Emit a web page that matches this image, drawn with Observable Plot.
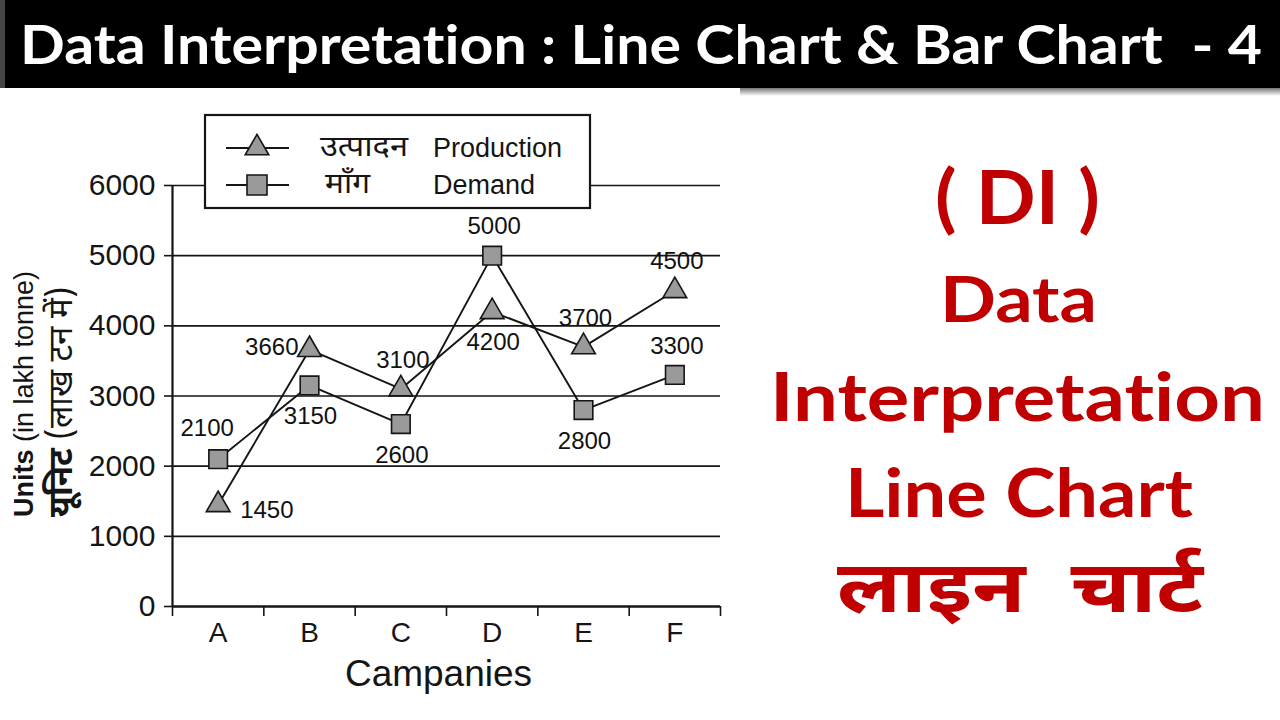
<!DOCTYPE html>
<html><head><meta charset="utf-8">
<script src="https://cdn.jsdelivr.net/npm/d3@7"></script>
<script src="https://cdn.jsdelivr.net/npm/@observablehq/plot@0.6"></script>
<style>
html,body{margin:0;padding:0;width:1280px;height:720px;overflow:hidden;background:#fff;}
#chart{position:absolute;left:0;top:90px;}
#overlay{position:absolute;left:0;top:0;pointer-events:none;}
#overlay text{white-space:pre;font-variant-ligatures:none;font-feature-settings:"liga" 0,"clig" 0;}
</style></head><body>
<div id="chart"></div>
<svg id="overlay" width="1280" height="720" xmlns="http://www.w3.org/2000/svg"></svg>
<script>
// ---- data ----
const categories = ["A", "B", "C", "D", "E", "F"];
const production = [1450, 3660, 3100, 4200, 3700, 4500];
const demand = [2100, 3150, 2600, 5000, 2800, 3300];
const yTicks = [0, 1000, 2000, 3000, 4000, 5000, 6000];
const productionLabelPlace = ["right", "left", "above", "below", "above", "above"];
const demandLabelPlace = ["aboveLeft", "below", "below", "above", "below", "above"];
const seriesNames = {production: ["उत्पादन", "Production"], demand: ["माँग", "Demand"]};

const toRows = (values, place) => values.map((v, i) => ({company: categories[i], xi: i + 0.5, value: v, place: place[i]}));
const prodRows = toRows(production, productionLabelPlace);
const demRows = toRows(demand, demandLabelPlace);

const places = {
  right: {dx: 22, dy: 6, textAnchor: "start"},
  left: {dx: -11, dy: -2, textAnchor: "end"},
  above: {dx: 2, dy: -29, textAnchor: "middle"},
  below: {dx: 1, dy: 31, textAnchor: "middle"},
  aboveLeft: {dx: -11, dy: -31, textAnchor: "middle"}
};
const labelMarks = rows => Object.entries(places).map(([k, o]) =>
  Plot.text(rows.filter(r => r.place === k), {x: "xi", y: "value", text: d => String(d.value), fontSize: 24, fill: "#111", ...o}));

const ink = "#151515";
const markerFill = "#9a9a9a";

const chart = Plot.plot({
  width: 740, height: 630,
  marginLeft: 172, marginRight: 20, marginTop: 95, marginBottom: 114,
  x: {domain: [0, categories.length]},
  y: {domain: [0, 6000]},
  style: {fontFamily: "'Liberation Sans', Arial, sans-serif", background: "transparent", color: ink},
  marks: [
    Plot.ruleY(yTicks.filter(v => v > 0), {stroke: ink, strokeWidth: 1.7}),
    Plot.axisY({ticks: yTicks, tickSize: 8, tickPadding: 9, fontSize: 30, label: null, tickFormat: d => String(d), strokeWidth: 1.6}),
    Plot.axisX({ticks: d3.range(0, categories.length + 1), tickSize: 10, tickFormat: () => "", label: null, strokeWidth: 1.6}),
    Plot.axisX({ticks: categories.map((c, i) => i + 0.5), tickSize: 0, tickPadding: 16, tickFormat: t => categories[Math.floor(t)], fontSize: 28, label: null}),
    Plot.text(["Campanies"], {frameAnchor: "bottom", dy: 79, dx: -8, fontSize: 37, fill: ink}),
    Plot.ruleX([0], {stroke: ink, strokeWidth: 2.2}),
    Plot.ruleY([0], {stroke: ink, strokeWidth: 2.6}),
    Plot.line(demRows, {x: "xi", y: "value", stroke: ink, strokeWidth: 1.9}),
    Plot.line(prodRows, {x: "xi", y: "value", stroke: ink, strokeWidth: 1.9}),
    Plot.dot(demRows, {x: "xi", y: "value", symbol: "square", r: 10.5, fill: markerFill, stroke: ink, strokeWidth: 1.6}),
    Plot.dot(prodRows, {x: "xi", y: "value", symbol: "triangle", r: 8.8, fill: markerFill, stroke: ink, strokeWidth: 1.6}),
    ...labelMarks(prodRows),
    ...labelMarks(demRows)
  ]
});
document.getElementById("chart").appendChild(chart);

// ---- overlay: title bar, legend, y title, side text ----
const svg = d3.select("#overlay");
const defs = svg.append("defs");
const g1 = defs.append("linearGradient").attr("id", "shadow").attr("x1", 0).attr("y1", 0).attr("x2", 0).attr("y2", 1);
g1.append("stop").attr("offset", 0).attr("stop-color", "#555");
g1.append("stop").attr("offset", 1).attr("stop-color", "#fff");

svg.append("rect").attr("x", 740).attr("y", 86).attr("width", 540).attr("height", 10).attr("fill", "url(#shadow)");
svg.append("rect").attr("x", 0).attr("y", 0).attr("width", 1280).attr("height", 88).attr("fill", "#000");
svg.append("rect").attr("x", 0).attr("y", 0).attr("width", 5).attr("height", 88).attr("fill", "#444");
svg.append("text").attr("x", 20).attr("y", 64)
  .attr("font-family", "Lato, 'Open Sans', sans-serif").attr("font-weight", 700).attr("font-size", 53)
  .attr("fill", "#fff").attr("textLength", 1242).attr("lengthAdjust", "spacingAndGlyphs")
  .text("Data Interpretation : Line Chart & Bar Chart  - 4");

// legend
const deva = "'Noto Sans Devanagari', 'Lohit Devanagari', 'FreeSans', sans-serif";
const lg = svg.append("g");
lg.append("rect").attr("x", 205).attr("y", 115).attr("width", 385).attr("height", 93)
  .attr("fill", "#fff").attr("stroke", ink).attr("stroke-width", 2.2);
const legendRows = [
  {key: "production", y: 148, shape: d3.symbolTriangle, size: 240, tx: 320},
  {key: "demand", y: 185, shape: d3.symbolSquare, size: 400, tx: 325}
];
legendRows.forEach(r => {
  lg.append("line").attr("x1", 226).attr("x2", 289).attr("y1", r.y).attr("y2", r.y).attr("stroke", ink).attr("stroke-width", 1.9);
  lg.append("path").attr("d", d3.symbol(r.shape, r.size)()).attr("transform", `translate(257,${r.y})`)
    .attr("fill", markerFill).attr("stroke", ink).attr("stroke-width", 1.6);
  lg.append("text").attr("x", r.tx).attr("y", r.y + 8)
    .attr("font-family", deva).attr("font-size", 28).attr("fill", ink)
    .attr("textLength", r.key === "production" ? 88 : 45).attr("lengthAdjust", "spacingAndGlyphs")
    .text(seriesNames[r.key][0]);
  lg.append("text").attr("x", 433).attr("y", r.y + 9)
    .attr("font-family", "'Liberation Sans', Arial, sans-serif").attr("font-size", 27).attr("fill", ink)
    .text(seriesNames[r.key][1]);
});

// y-axis title
const yt = svg.append("text").attr("transform", "translate(33,517) rotate(-90)")
  .attr("font-family", "'Liberation Sans', Arial, sans-serif").attr("font-size", 27).attr("fill", ink);
yt.append("tspan").attr("font-weight", 700).text("Units");
yt.append("tspan").text(" (in lakh tonne)");
const yt2 = svg.append("text").attr("transform", "translate(72,517) rotate(-90)")
  .attr("font-family", deva).attr("font-size", 33).attr("fill", ink);
yt2.append("tspan").attr("font-weight", 700).text("यूनिट");
yt2.append("tspan").text(" (लाख टन में)");

// right side text
const red = "#c00000";
const sideLines = [
  {t: "( DI )", x: 935, y: 224, w: 165, fs: 74},
  {t: "Data", x: 940, y: 322, w: 157, fs: 64},
  {t: "Interpretation", x: 770, y: 421, w: 495, fs: 66},
  {t: "Line Chart", x: 845, y: 517, w: 348, fs: 66},
  {t: "लाइन  चार्ट", x: 837, y: 612, w: 366, fs: 72, deva: true}
];
sideLines.forEach(s => {
  svg.append("text").attr("x", s.x).attr("y", s.y)
    .attr("font-family", s.deva ? deva : "Lato, 'Open Sans', sans-serif")
    .attr("font-weight", 700).attr("font-size", s.fs).attr("fill", red)
    .attr("textLength", s.w).attr("lengthAdjust", "spacingAndGlyphs")
    .text(s.t);
});
</script>
</body></html>
